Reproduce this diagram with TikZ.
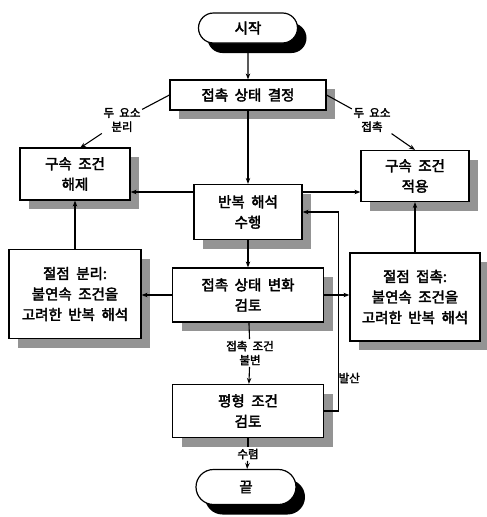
\documentclass[tikz,border=0pt]{standalone}
\usepackage{fontspec}
\newfontfamily\krfont{Noto Sans CJK KR}[WordSpace=2,AutoFakeBold=2.5]
\usetikzlibrary{shapes.misc,arrows.meta}
\begin{document}
\begin{tikzpicture}[x=1pt,y=-1pt,
  box/.style={draw, line width=1.2pt, fill=white, align=center, inner sep=0pt,
    font=\krfont\bfseries\fontsize{14.5}{20.5}\selectfont},
  term/.style={rounded rectangle, draw, line width=1.2pt, fill=white, inner sep=0pt,
    font=\krfont\bfseries\fontsize{14.5}{20.5}\selectfont},
  boxshadow/.style={fill=black!42, inner sep=0pt},
  termshadow/.style={rounded rectangle, fill=black, inner sep=0pt},
  lbl/.style={align=center, inner sep=1.5pt, font=\krfont\bfseries\fontsize{11.5}{14}\selectfont},
  conn/.style={line width=1.1pt},
  arr/.style={conn, -{Stealth[length=6pt,width=4.5pt]}}]
\useasboundingbox (0,0) rectangle (487,517);

% shadows (offset 9 right, 9 down)
\node[termshadow, minimum width=99pt, minimum height=30pt] (startsh) at (257,38) {};
\node[boxshadow, minimum width=156pt, minimum height=30pt] (decidesh) at (257,104) {};
\node[boxshadow, minimum width=110pt, minimum height=52pt] (releasesh) at (84,183) {};
\node[boxshadow, minimum width=108pt, minimum height=55pt] (itersh) at (257,221) {};
\node[boxshadow, minimum width=108pt, minimum height=51pt] (applysh) at (424,185) {};
\node[boxshadow, minimum width=132pt, minimum height=89pt] (sepsh) at (84,303) {};
\node[boxshadow, minimum width=151pt, minimum height=54pt] (checksh) at (257,304) {};
\node[boxshadow, minimum width=130pt, minimum height=88pt] (contactsh) at (424,306) {};
\node[boxshadow, minimum width=151pt, minimum height=53pt] (equilsh) at (257,420) {};
\node[termshadow, minimum width=100pt, minimum height=35pt] (stopsh) at (255,497) {};

\node[term, minimum width=99pt, minimum height=30pt] (start) at (248,28) {시작};
\node[box, minimum width=156pt, minimum height=30pt] (decide) at (248,95) {접촉 상태 결정};
\node[box, minimum width=110pt, minimum height=52pt] (release) at (75,174) {구속 조건\\해제};
\node[box, minimum width=108pt, minimum height=55pt] (iter) at (248,212) {반복 해석\\수행};
\node[box, minimum width=108pt, minimum height=51pt] (apply) at (415,176) {구속 조건\\적용};
\node[box, minimum width=132pt, minimum height=89pt] (sep) at (75,294) {절점 분리:\\불연속 조건을\\고려한 반복 해석};
\node[box, minimum width=151pt, minimum height=54pt] (check) at (248,295) {접촉 상태 변화\\검토};
\node[box, minimum width=130pt, minimum height=88pt] (contact) at (415,297) {절점 접촉:\\불연속 조건을\\고려한 반복 해석};
\node[box, minimum width=151pt, minimum height=53pt] (equil) at (248,411) {평형 조건\\검토};
\node[term, minimum width=100pt, minimum height=35pt] (stop) at (246,487) {끝};

\node[lbl] (lsep) at (122,120) {두 요소\\분리};
\node[lbl] (lcon) at (372,120) {두 요소\\접촉};
\node[lbl] (lkeep) at (250,353) {접촉 조건\\불변};
\node[lbl, anchor=west] (ldiv) at (337,378) {발산};
\node[lbl] (lconv) at (248,454) {수렴};

\coordinate (a1) at (195,192);
\coordinate (a2) at (302,192);
\coordinate (relin) at (80,148);

\draw[arr] (start) -- (decide);
\draw[arr] (decide) -- (iter);
\draw[conn] (decide.west) -- (lsep);
\draw[arr] (lsep) -- (relin);
\draw[conn] (decide.east) -- (lcon);
\draw[arr] (lcon) -- (apply.north);
\draw[arr] (a1) -- (a1 -| release.east);
\draw[arr] (a2) -- (a2 -| apply.west);
\draw[arr] (iter) -- (check);
\draw[arr] (sep) -- (release);
\draw[arr] (contact) -- (apply);
\draw[arr] (check.west) -- (check.west -| sep.east);
\draw[arr] (check.east) -- (check.east -| contact.west);
\draw[conn] (check) -- (lkeep);
\draw[arr] (lkeep) -- (equil);
\draw[arr] (equil.east) -- ++(14,0) coordinate (b1) |- (iter.east);
\draw[conn] (equil) -- (lconv);
\draw[arr] (lconv) -- (stop);
\end{tikzpicture}
\end{document}
